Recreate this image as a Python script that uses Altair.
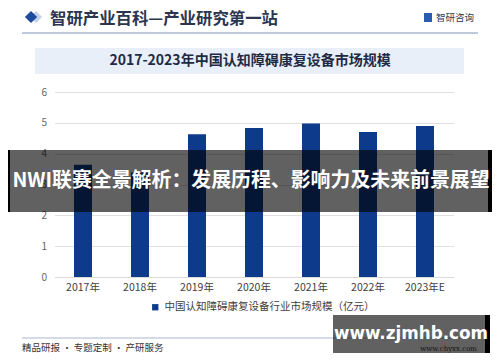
import altair as alt
import pandas as pd

years = ["2017年", "2018年", "2019年", "2020年", "2021年", "2022年", "2023年E"]
values = [3.64, 3.39, 4.63, 4.83, 4.98, 4.70, 4.90]
series_name = "中国认知障碍康复设备行业市场规模（亿元）"
y_ticks = [0, 1, 2, 3, 4, 5, 6]

header_text = "智研产业百科—产业研究第一站"
logo_text = "智研咨询"
chart_title = "2017-2023年中国认知障碍康复设备市场规模"
overlay_text = "NWI联赛全景解析：发展历程、影响力及未来前景展望"
footer_text = "精品研报 · 专题定制 · 产研服务"
footer_url = "www.chyxx.com"
watermark_text = "www.zjmhb.com"

BAR = "#0e3a8c"
FONT = "Noto Sans CJK SC"

# plot origin on page
OX, OY = 54.5, 92.0
W, H = 399, 185


def px(x):
    return x - OX


def py(y):
    return y - OY


df = pd.DataFrame({"year": years, "value": values, "series": [series_name] * len(years)})
one = alt.Data(values=[{"k": 1}])

bars = alt.Chart(df).mark_bar(color=BAR).encode(
    x=alt.X("year:N", sort=years, title=None,
            scale=alt.Scale(paddingInner=0.684, paddingOuter=0.342),
            axis=alt.Axis(labelAngle=0, labelFontSize=10.5, labelColor="#404040",
                          labelFont=FONT, ticks=False, domainColor="#d9d9d9",
                          labelPadding=5)),
    y=alt.Y("value:Q", title=None,
            scale=alt.Scale(domain=[0, 6], nice=False),
            axis=alt.Axis(values=y_ticks, labelFontSize=10, labelColor="#666666",
                          labelFont=FONT, ticks=False, domain=False, gridColor="#e0e0e0",
                          labelPadding=8)),
    color=alt.Color("series:N", scale=alt.Scale(domain=[series_name], range=[BAR]),
                    legend=alt.Legend(title=None, orient="none", legendX=px(150), legendY=py(302),
                                      symbolType="square", symbolSize=40, labelFontSize=10.5,
                                      labelColor="#404040", labelFont=FONT, padding=0,
                                      labelLimit=400)),
)


def rect(x1, x2, y1, y2, color, opacity=1.0):
    return alt.Chart(one).mark_rect(color=color, opacity=opacity).encode(
        x=alt.value(px(x1)), x2=alt.value(px(x2)), y=alt.value(py(y1)), y2=alt.value(py(y2)))


def rule(x1, x2, y, color, w=1.5):
    return alt.Chart(one).mark_rule(color=color, strokeWidth=w).encode(
        x=alt.value(px(x1)), x2=alt.value(px(x2)), y=alt.value(py(y)))


def text(s, x, y, size, color, weight="normal", align="left", font=FONT):
    return alt.Chart(one).mark_text(text=s, fontSize=size, color=color, fontWeight=weight,
                                    align=align, baseline="middle", font=font).encode(
        x=alt.value(px(x)), y=alt.value(py(y)))


def diamond(x, y, size, color):
    return alt.Chart(one).mark_point(shape="diamond", filled=True, color=color, size=size, opacity=1).encode(
        x=alt.value(px(x)), y=alt.value(py(y)))


layers = [
    # header
    diamond(36, 17, 150, "#c5d3ea"),
    diamond(31, 17, 150, "#1d4c9e"),
    text(header_text, 50, 18.5, 16.4, "#2b3550", "bold"),
    rect(424, 432, 13, 22, "#2b5cb0"),
    text(logo_text, 436, 18, 9.5, "#2b3a5a"),
    rule(22, 478, 33, "#a9b8d0", 1.5),
    # title box
    rect(35, 464, 48, 74, "#e9eff8"),
    text(chart_title, 250, 61, 14, "#1f2a44", "bold", "center"),
    # chart
    bars,
    # overlay band
    rect(8, 492, 150, 212, "#000000", 0.62),
    rect(8, 10, 150, 212, "#000000"),
    rect(488, 492, 150, 212, "#000000"),
    text(overlay_text, 251, 181, 19.9, "#ffffff", "bold", "center"),
    # footer
    rule(22, 478, 338, "#a9b8d0", 1.2),
    text(footer_text, 22, 348, 9.5, "#333333"),
    text(footer_url, 477, 349, 7, "#333333", "normal", "right", "DejaVu Serif"),
    # watermark box
    rect(333, 488, 315, 353, "#000000", 0.62),
    rect(485, 490, 315, 353, "#000000"),
    text(watermark_text, 411, 334, 16.8, "#ffffff", "bold", "center", "DejaVu Sans"),
]

chart = alt.layer(*layers).properties(
    width=W, height=H,
    autosize=alt.AutoSizeParams(type="none"),
    padding={"left": OX - 8, "top": OY - 8, "right": 484 - (OX - 8) - W, "bottom": 346 - (OY - 8) - H},
    background="#ffffff",
).configure_view(stroke=None)

chart.save("out.html", embed_options={"renderer": "svg", "actions": False})
